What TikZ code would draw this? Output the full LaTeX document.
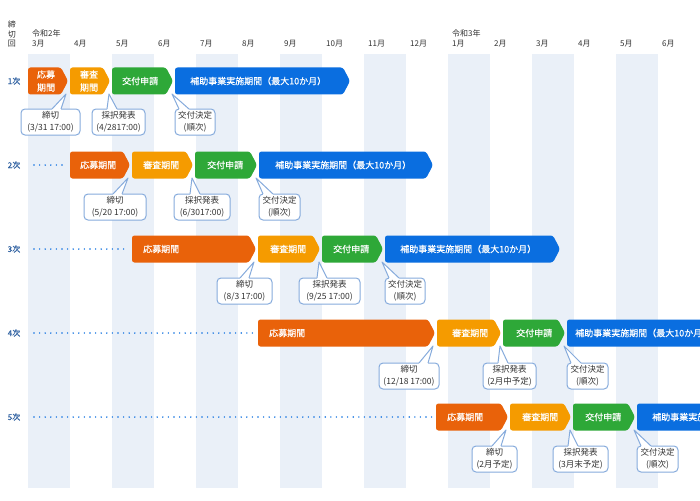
\documentclass[tikz,border=0pt]{standalone}
\usepackage{fontspec}
\setmainfont{Noto Sans CJK JP}
\newfontfamily\medfont[FakeBold=0.3]{Noto Sans CJK JP}
\definecolor{cOubo}{HTML}{E9620A}
\definecolor{cShinsa}{HTML}{F59B00}
\definecolor{cKofu}{HTML}{2EA838}
\definecolor{cHojo}{HTML}{0A6EE0}
\definecolor{cStripe}{HTML}{EAF0F8}
\definecolor{cBubble}{HTML}{86ABDC}
\definecolor{cRow}{HTML}{2C5FA0}
\definecolor{cHead}{HTML}{333333}
\tikzset{
  monthlab/.style={anchor=west, inner sep=0pt, text=cHead, font=\fontsize{8}{9.5}\selectfont},
  rowlab/.style={inner sep=0pt, text=cRow, font=\medfont\fontsize{8}{9.5}\selectfont},
  bartext/.style={anchor=west, inner sep=0pt, text=white, font=\medfont\fontsize{9}{13}\selectfont},
  bubblebox/.style={draw=cBubble, fill=white, line width=1pt, rounded corners=4pt,
     minimum height=26pt, inner sep=1pt, align=center, text=cHead,
     font=\fontsize{8.5}{11.5}\selectfont},
  leader/.style={draw=cHojo, line width=1.6pt, line cap=round, dash pattern=on 0pt off 5.6pt},
}
% chevron: x1, x2(tip), yc, colour
\newcommand{\chevbar}[4]{\fill[#4, rounded corners=2.5pt] (#1,#3-13.5) -- (#2-7,#3-13.5) -- (#2,#3) -- (#2-7,#3+13.5) -- (#1,#3+13.5) -- cycle;}
% bubble: name, cx, cy, width, tipx, tipy, basex1, basex2, text
\newcommand{\bubble}[9]{%
  \node[bubblebox, minimum width=#4pt] (#1) at (#2,#3) {#9};
  \coordinate (#1tip) at (#5,#6);
  \fill[white] (#7,#3-12) -- (#7,#3-13) -- (#1tip) -- (#8,#3-13) -- (#8,#3-12) -- cycle;
  \draw[cBubble, line width=1pt, line join=round] (#7,#3-13) -- (#1tip) -- (#8,#3-13);
}
\begin{document}
\begin{tikzpicture}[x=1pt,y=-1pt]
\clip (0,0) rectangle (700,500);
\fill[white] (0,0) rectangle (700,500);
% stripes
\foreach \k in {0,...,7} \fill[cStripe] ({28+84*\k},54) rectangle ({70+84*\k},488);
% header
\node[rowlab, text=cHead, align=center, font=\fontsize{8}{9.6}\selectfont] (hdr) at (12,34) {締\\切\\回};
\node[monthlab] (y2) at (32,33) {令和2年};
\node[monthlab] (y3) at (452,33) {令和3年};
\foreach \m [count=\i from 0] in {3,4,5,6,7,8,9,10,11,12,1,2,3,4,5,6}
  \node[monthlab] (m\i) at ({32+42*\i},44) {\m 月};
% row labels
\node[rowlab] (r1) at (14,81) {1次};
\node[rowlab] (r2) at (14,165) {2次};
\node[rowlab] (r3) at (14,249) {3次};
\node[rowlab] (r4) at (14,333) {4次};
\node[rowlab] (r5) at (14,417) {5次};
% leaders
\coordinate (d2) at (34,165); \coordinate (e2) at (66,165);
\coordinate (d3) at (34,249); \coordinate (e3) at (128,249);
\coordinate (d4) at (34,333); \coordinate (e4) at (254,333);
\coordinate (d5) at (34,417); \coordinate (e5) at (432,417);
\draw[leader] (d2) -- (e2);
\draw[leader] (d3) -- (e3);
\draw[leader] (d4) -- (e4);
\draw[leader] (d5) -- (e5);
% row 1
\chevbar{28}{68}{81}{cOubo}
\chevbar{70}{110}{81}{cShinsa}
\chevbar{112}{173}{81}{cKofu}
\chevbar{175}{350}{81}{cHojo}
\node[bartext, anchor=center, align=center] (b1a) at (46,81) {応募\\期間};
\node[bartext, anchor=center, align=center] (b1b) at (89,81) {審査\\期間};
\node[bartext] (b1c) at (122,81) {交付申請};
\node[bartext] (b1d) at (190,81) {補助事業実施期間（最大10か月）};
% row 2
\chevbar{70}{130}{165}{cOubo}
\chevbar{132}{193}{165}{cShinsa}
\chevbar{195}{257}{165}{cKofu}
\chevbar{259}{433}{165}{cHojo}
\node[bartext] (b2a) at (80,165) {応募期間};
\node[bartext] (b2b) at (143,165) {審査期間};
\node[bartext] (b2c) at (207,165) {交付申請};
\node[bartext] (b2d) at (275,165) {補助事業実施期間（最大10か月）};
% row 3
\chevbar{132}{256}{249}{cOubo}
\chevbar{258}{320}{249}{cShinsa}
\chevbar{322}{383}{249}{cKofu}
\chevbar{385}{560}{249}{cHojo}
\node[bartext] (b3a) at (143,249) {応募期間};
\node[bartext] (b3b) at (270,249) {審査期間};
\node[bartext] (b3c) at (333,249) {交付申請};
\node[bartext] (b3d) at (400,249) {補助事業実施期間（最大10か月）};
% row 4
\chevbar{258}{435}{333}{cOubo}
\chevbar{437}{501}{333}{cShinsa}
\chevbar{503}{565}{333}{cKofu}
\chevbar{567}{740}{333}{cHojo}
\node[bartext] (b4a) at (269,333) {応募期間};
\node[bartext] (b4b) at (452,333) {審査期間};
\node[bartext] (b4c) at (516,333) {交付申請};
\node[bartext] (b4d) at (575,333) {補助事業実施期間（最大10か月）};
% row 5
\chevbar{436}{508}{417}{cOubo}
\chevbar{510}{571}{417}{cShinsa}
\chevbar{573}{635}{417}{cKofu}
\chevbar{637}{740}{417}{cHojo}
\node[bartext] (b5a) at (447,417) {応募期間};
\node[bartext] (b5b) at (522,417) {審査期間};
\node[bartext] (b5c) at (585,417) {交付申請};
\node[bartext] (b5d) at (652,417) {補助事業実施期間（最大10か月）};
% bubbles row 1
\bubble{c1a}{50.5}{122}{59}{66}{94}{52}{61}{締切\\(3/31 17:00)}
\bubble{c1b}{118.5}{122}{53}{109}{94}{107}{117}{採択発表\\(4/2817:00)}
\bubble{c1c}{195}{122}{40}{172}{94}{179}{189}{交付決定\\(順次)}
% row 2
\bubble{c2a}{115}{207}{62}{128}{178}{113}{122}{締切\\(5/20 17:00)}
\bubble{c2b}{202}{207}{56}{192}{178}{190}{200}{採択発表\\(6/3017:00)}
\bubble{c2c}{279.5}{207}{41}{256}{178}{263}{273}{交付決定\\(順次)}
% row 3
\bubble{c3a}{244.5}{291}{55}{254}{262}{240}{249}{締切\\(8/3 17:00)}
\bubble{c3b}{329.5}{291}{61}{319}{262}{317}{327}{採択発表\\(9/25 17:00)}
\bubble{c3c}{405}{291}{40}{382}{262}{389}{399}{交付決定\\(順次)}
% row 4
\bubble{c4a}{409}{376}{60}{433}{346}{419}{428}{締切\\(12/18 17:00)}
\bubble{c4b}{509.5}{376}{53}{500}{346}{498}{508}{採択発表\\(2月中予定)}
\bubble{c4c}{587.5}{376}{41}{564}{346}{571}{581}{交付決定\\(順次)}
% row 5
\bubble{c5a}{494.5}{459}{45}{506}{430}{492}{501}{締切\\(2月予定)}
\bubble{c5b}{580.5}{459}{55}{570}{430}{568}{578}{採択発表\\(3月末予定)}
\bubble{c5c}{657.5}{459}{41}{634}{430}{641}{651}{交付決定\\(順次)}
\end{tikzpicture}
\end{document}
